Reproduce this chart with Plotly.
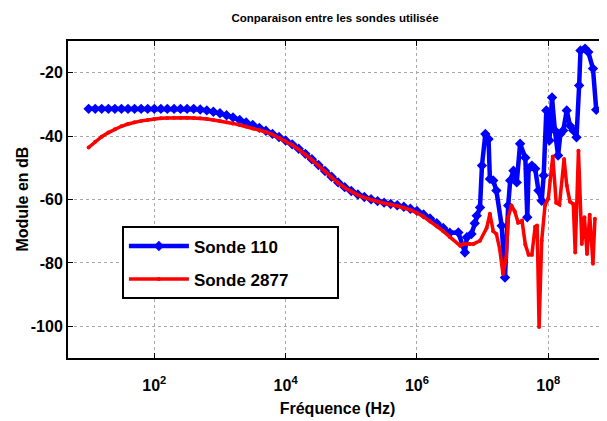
import plotly.graph_objects as go

# ---- data ----
freq_smooth = [
    10, 12.6, 15.8, 20.0, 25.1, 31.6, 39.8, 50.1, 63.1, 79.4,
    100, 126, 158, 200, 251, 316, 398, 501, 631, 794,
    1.00e3, 1.26e3, 1.58e3, 2.00e3, 2.51e3, 3.16e3, 3.98e3, 5.01e3, 6.31e3, 7.94e3,
    1.00e4, 1.26e4, 1.58e4, 2.00e4, 2.51e4, 3.16e4, 3.98e4, 5.01e4, 6.31e4, 7.94e4,
    1.00e5, 1.26e5, 1.58e5, 2.00e5, 2.51e5, 3.16e5, 3.98e5, 5.01e5, 6.31e5, 7.94e5,
    1.00e6, 1.26e6, 1.58e6, 2.00e6, 2.51e6, 3.16e6,
]
db_110_smooth = [
    -31.4, -31.4, -31.4, -31.4, -31.4, -31.4, -31.4, -31.4, -31.4, -31.4,
    -31.4, -31.4, -31.4, -31.4, -31.4, -31.4, -31.4, -31.6, -31.9, -32.3,
    -32.8, -33.4, -34.1, -34.9, -35.7, -36.5, -37.4, -38.3, -39.3, -40.3,
    -41.4, -42.6, -44.0, -45.6, -47.3, -49.1, -51.0, -52.8, -54.6, -56.1,
    -57.3, -58.4, -59.2, -59.9, -60.5, -61.0, -61.4, -61.8, -62.3, -62.9,
    -63.6, -64.7, -66.0, -67.5, -69.0, -70.5,
]
db_2877_smooth = [
    -43.6, -41.8, -40.2, -38.9, -37.8, -36.9, -36.2, -35.6, -35.2, -34.9,
    -34.6, -34.4, -34.3, -34.2, -34.2, -34.2, -34.3, -34.4, -34.6, -34.9,
    -35.2, -35.6, -36.0, -36.5, -37.0, -37.6, -38.1, -38.7, -39.5, -40.5,
    -41.6, -42.8, -44.2, -45.8, -47.5, -49.3, -51.2, -53.0, -54.8, -56.3,
    -57.5, -58.6, -59.4, -60.1, -60.7, -61.2, -61.6, -62.0, -62.6, -63.3,
    -64.2, -65.4, -66.8, -68.3, -70.0, -71.8,
]

freq_110_hf = [
    4.27e6, 5.37e6, 5.75e6, 6.76e6, 7.59e6, 8.13e6, 9.12e6, 9.77e6, 1.10e7, 1.23e7,
    1.29e7, 1.45e7, 1.62e7, 1.95e7, 2.19e7, 2.45e7, 2.63e7, 2.95e7, 3.31e7, 3.72e7,
    4.47e7, 4.79e7, 5.01e7, 5.62e7, 6.31e7, 7.08e7, 7.94e7, 8.51e7, 9.33e7, 1.04e8,
    1.14e8, 1.26e8, 1.41e8, 1.53e8, 1.69e8, 1.91e8, 2.14e8, 2.40e8, 2.69e8, 2.95e8,
    3.09e8, 3.63e8, 4.07e8, 4.79e8, 5.37e8,
]
db_110_hf = [
    -70.4, -76.7, -71.9, -70.9, -67.5, -65.1, -62.5, -49.3, -39.3, -40.9,
    -53.5, -54.0, -57.2, -68.3, -84.6, -61.9, -54.0, -50.9, -54.6, -42.4,
    -46.8, -65.6, -50.3, -49.3, -50.3, -57.2, -60.4, -52.4, -31.9, -41.4,
    -27.8, -38.2, -46.1, -39.3, -38.2, -31.9, -36.7, -38.2, -40.4, -24.0,
    -13.0, -12.4, -13.5, -18.7, -31.7,
]

freq_2877_hf = [
    4.57e6, 5.13e6, 6.31e6, 7.24e6, 9.12e6, 1.15e7, 1.29e7, 1.45e7, 1.62e7, 1.82e7,
    2.04e7, 2.29e7, 2.45e7, 2.75e7, 3.09e7, 3.47e7, 3.98e7, 4.47e7, 5.01e7, 5.62e7,
    6.31e7, 6.76e7, 7.24e7, 7.94e7, 8.91e7, 1.00e8, 1.17e8, 1.32e8, 1.48e8, 1.74e8,
    1.91e8, 2.14e8, 2.40e8, 2.57e8, 2.88e8, 3.24e8, 3.55e8, 3.89e8, 4.27e8, 4.79e8,
    5.13e8,
]
db_2877_hf = [
    -74.6, -74.0, -74.0, -74.0, -73.0, -69.0, -64.5, -70.0, -70.9, -75.6,
    -83.5, -78.3, -65.6, -61.9, -63.8, -67.3, -66.7, -74.2, -77.4, -77.4,
    -68.6, -68.2, -100.2, -73.0, -61.9, -59.7, -46.4, -61.0, -61.6, -47.2,
    -55.6, -60.7, -61.4, -76.7, -44.6, -74.0, -65.6, -77.2, -64.8, -80.3,
    -66.1,
]

x_tickvals = [1e2, 1e4, 1e6, 1e8]
x_ticktext = ["<b>10<sup>2</sup></b>", "<b>10<sup>4</sup></b>",
              "<b>10<sup>6</sup></b>", "<b>10<sup>8</sup></b>"]
y_tickvals = [-20, -40, -60, -80, -100]
y_ticktext = ["<b>-20</b>", "<b>-40</b>", "<b>-60</b>", "<b>-80</b>", "<b>-100</b>"]

title_text = "Conparaison entre les sondes utilisée"
x_title = "Fréquence (Hz)"
y_title = "Module en dB"
name_110 = "Sonde 110"
name_2877 = "Sonde 2877"

FONT = "Liberation Sans, Arial, sans-serif"
PAD = "&nbsp;" * 9

# the page body has an 8px default margin; figure size compensates for it
W, H = 599, 413

fig = go.Figure()
fig.add_trace(go.Scatter(
    x=freq_smooth + freq_110_hf, y=db_110_smooth + db_110_hf,
    mode="lines+markers", name="<b>" + name_110 + "</b>" + PAD,
    legendgroup="a",
    line=dict(color="#0000ff", width=4.5),
    marker=dict(symbol="diamond", size=8, color="#0000ff"),
))
fig.add_trace(go.Scatter(
    x=freq_smooth + freq_2877_hf, y=db_2877_smooth + db_2877_hf,
    mode="lines+markers", name="<b>" + name_2877 + "</b>" + PAD,
    legendgroup="b",
    line=dict(color="#ff0000", width=3.5),
    marker=dict(symbol="circle", size=4, color="#ff0000"),
))

fig.update_layout(
    width=W, height=H,
    margin=dict(l=60, r=0, t=33, b=63, autoexpand=False),
    paper_bgcolor="white", plot_bgcolor="white",
    font=dict(family=FONT, color="black"),
    title=dict(text="<b>" + title_text + "</b>", x=327 / W, xanchor="center",
               y=1 - 10 / H, yanchor="middle", yref="container",
               font=dict(size=11.5, family=FONT, color="black")),
    showlegend=True,
    legend=dict(x=0.1, y=0.415, xanchor="left", yanchor="top",
                bgcolor="white", bordercolor="black", borderwidth=2,
                font=dict(size=17, family=FONT, color="black"),
                traceorder="grouped", tracegroupgap=8, itemwidth=60),
    xaxis=dict(type="log", range=[0.686, 8.894], automargin=False,
               tickvals=x_tickvals, ticktext=x_ticktext,
               tickfont=dict(size=16, family=FONT, color="black"),
               ticklabelstandoff=12,
               ticks="inside", ticklen=5, tickwidth=1, tickcolor="black",
               showline=True, linecolor="black", linewidth=2, mirror="ticks",
               showgrid=True, gridcolor="#a8a8a8", griddash="dot", gridwidth=1,
               zeroline=False,
               title=dict(text="<b>" + x_title + "</b>",
                          font=dict(size=16, family=FONT, color="black"),
                          standoff=10)),
    yaxis=dict(range=[-110, -10], automargin=False,
               tickvals=y_tickvals, ticktext=y_ticktext,
               tickfont=dict(size=16, family=FONT, color="black"),
               ticks="inside", ticklen=5, tickwidth=1, tickcolor="black",
               showline=True, linecolor="black", linewidth=2, mirror=False,
               showgrid=True, gridcolor="#a8a8a8", griddash="dot", gridwidth=1,
               zeroline=False),
    annotations=[dict(text="<b>" + y_title + "</b>", textangle=-90,
                      xref="paper", yref="paper", x=(22 - 68) / 539, y=0.5,
                      xanchor="center", yanchor="middle", showarrow=False,
                      font=dict(size=16, family=FONT, color="black"))],
)

fig.write_html("out.html")
